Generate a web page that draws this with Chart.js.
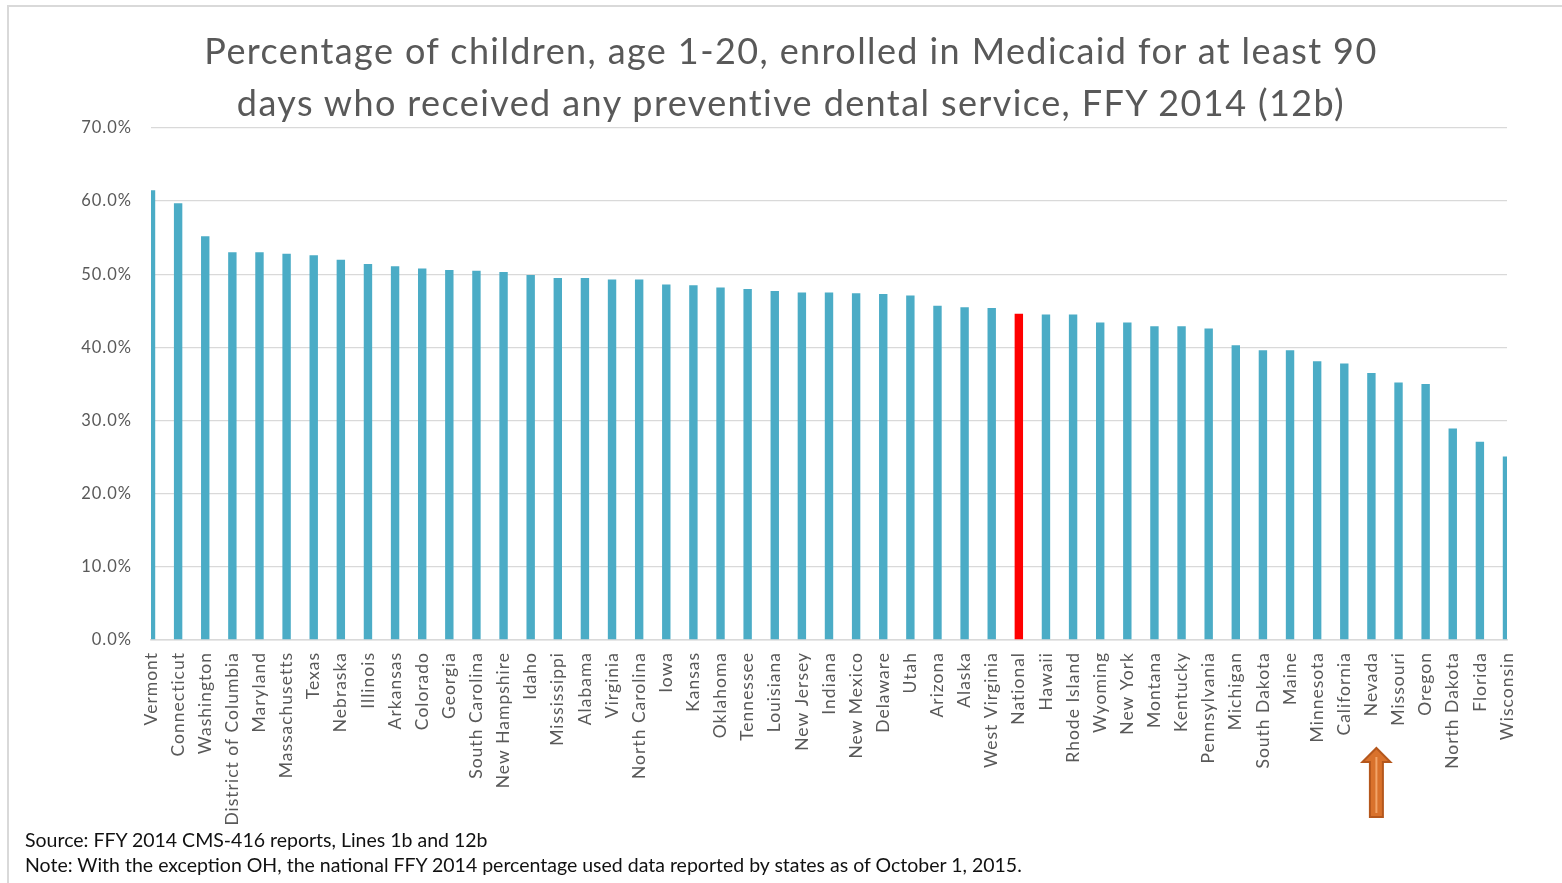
<!DOCTYPE html>
<html>
<head>
<meta charset="utf-8">
<script src="https://cdn.jsdelivr.net/npm/chart.js@4.4.1/dist/chart.umd.min.js"></script>
<style>
  html, body { margin: 0; padding: 0; background: #fff; overflow: hidden; }
  #wrap { position: relative; width: 1562px; height: 883px; font-family: Lato, sans-serif; }
  #frame { position: absolute; left: 7px; top: 5px; width: 1600px; height: 1000px;
           border-top: 2px solid #d9d9d9; border-left: 2px solid #d9d9d9; }
  #title { position: absolute; left: 141px; width: 1300px; top: 24px; text-align: center;
           font-size: 36px; line-height: 52px; letter-spacing: 1.4px; color: #595959; }
  #note { position: absolute; left: 25px; top: 827px; font-size: 19.5px; line-height: 25px; color: #111; }
  canvas { position: absolute; left: 0; top: 0; }
</style>
</head>
<body>
<div id="wrap">
  <div id="frame"></div>
  <canvas id="dentalChart" width="1562" height="883"></canvas>
  <div id="title">Percentage of children, age 1-20, enrolled in Medicaid for at least 90<br>days who received any preventive dental service, FFY 2014 (12b)</div>
  <div id="note">Source: FFY 2014 CMS-416 reports, Lines 1b and 12b<br>Note: With the exception OH, the national FFY 2014 percentage used data reported by states as of October 1, 2015.</div>
</div>
<script>
const states = [
  "Vermont", "Connecticut", "Washington", "District of Columbia", "Maryland",
  "Massachusetts", "Texas", "Nebraska", "Illinois", "Arkansas", "Colorado",
  "Georgia", "South Carolina", "New Hampshire", "Idaho", "Mississippi",
  "Alabama", "Virginia", "North Carolina", "Iowa", "Kansas", "Oklahoma",
  "Tennessee", "Louisiana", "New Jersey", "Indiana", "New Mexico", "Delaware",
  "Utah", "Arizona", "Alaska", "West Virginia", "National", "Hawaii",
  "Rhode Island", "Wyoming", "New York", "Montana", "Kentucky", "Pennsylvania",
  "Michigan", "South Dakota", "Maine", "Minnesota", "California", "Nevada",
  "Missouri", "Oregon", "North Dakota", "Florida", "Wisconsin",
];

// percent of children receiving a preventive dental service
const percents = [
  61.5, 59.7, 55.2, 53.0, 53.0,
  52.8, 52.6, 52.0, 51.4, 51.1, 50.8,
  50.6, 50.5, 50.3, 49.9, 49.5,
  49.5, 49.3, 49.3, 48.6, 48.5, 48.2,
  48.0, 47.7, 47.5, 47.5, 47.4, 47.3,
  47.1, 45.7, 45.5, 45.4, 44.6, 44.5,
  44.5, 43.4, 43.4, 42.9, 42.9, 42.6,
  40.3, 39.6, 39.6, 38.1, 37.8, 36.5,
  35.2, 35.0, 28.9, 27.1, 25.1,
];

const yMax = 70;
const yStep = 10;
const highlightState = "National";
const arrowState = "Nevada";

const barColor = "#4BACC6";
const highlightColor = "#FF0000";
const textColor = "#595959";
const gridColor = "#D9D9D9";

// a little letter spacing so the axis text is as wide as the original
const spacingPlugin = {
  id: "letterSpacing",
  beforeDraw(chart) {
    chart.ctx.letterSpacing = "1px";
  },
};

// up arrow under one of the labels
const arrowPlugin = {
  id: "stateArrow",
  afterDraw(chart) {
    const ctx = chart.ctx;
    const x = chart.scales.x.getPixelForValue(states.indexOf(arrowState)) + 5;
    ctx.save();
    ctx.beginPath();
    ctx.moveTo(x, 748);
    ctx.lineTo(x + 14, 762);
    ctx.lineTo(x + 6.5, 762);
    ctx.lineTo(x + 6.5, 817);
    ctx.lineTo(x - 6.5, 817);
    ctx.lineTo(x - 6.5, 762);
    ctx.lineTo(x - 14, 762);
    ctx.closePath();
    ctx.fillStyle = "#D9722C";
    ctx.fill();
    ctx.strokeStyle = "#B5571C";
    ctx.lineWidth = 2;
    ctx.stroke();
    ctx.fillStyle = "#F2A468";
    ctx.fillRect(x - 1, 757, 2, 56);
    ctx.restore();
  },
};

const canvas = document.getElementById("dentalChart");

new Chart(canvas, {
  type: "bar",
  data: {
    labels: states,
    datasets: [
      {
        data: percents,
        backgroundColor: states.map((s) => (s === highlightState ? highlightColor : barColor)),
        borderWidth: 0,
        barPercentage: 0.31,
        categoryPercentage: 1,
        clip: 0,
      },
    ],
  },
  options: {
    responsive: false,
    animation: false,
    devicePixelRatio: 1,
    layout: { padding: { top: 128, left: 0, right: 55, bottom: 23 } },
    plugins: {
      legend: { display: false },
      tooltip: { enabled: false },
    },
    scales: {
      x: {
        offset: false,
        grid: { display: false, drawTicks: false },
        border: { color: gridColor, width: 1.5 },
        ticks: {
          autoSkip: false,
          minRotation: 90,
          maxRotation: 90,
          padding: 12,
          color: textColor,
          font: { family: "Lato", size: 17.5 },
        },
        afterFit(scale) {
          scale.height = 220;
        },
      },
      y: {
        min: 0,
        max: yMax,
        border: { display: false },
        grid: { color: gridColor, lineWidth: 1.3, drawTicks: false },
        ticks: {
          stepSize: yStep,
          padding: 19,
          color: textColor,
          font: { family: "Lato", size: 16.5 },
          callback: (v) => v.toFixed(1) + "%",
        },
        afterFit(scale) {
          scale.width = 151;
        },
      },
    },
  },
  plugins: [spacingPlugin, arrowPlugin],
});
</script>
</body>
</html>
